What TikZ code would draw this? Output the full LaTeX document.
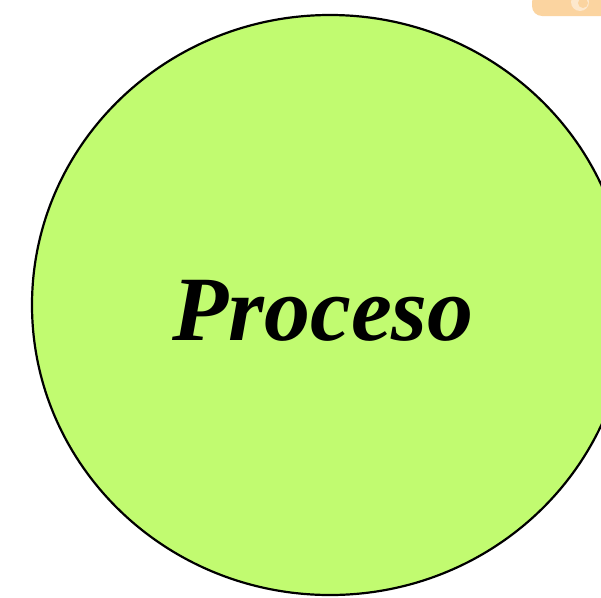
\documentclass[tikz,border=0pt]{standalone}
\usepackage{fontspec}
\newfontfamily\labelfont{Liberation Serif}
\definecolor{procfill}{RGB}{193,251,112}
\definecolor{iconorange}{RGB}{251,212,160}
\definecolor{iconlight}{RGB}{253,232,205}
\tikzset{
  procshape/.style={draw=black, line width=2.2pt, fill=procfill},
  proclabel/.style={font=\labelfont\bfseries\itshape\fontsize{92}{100}\selectfont, text=black, inner sep=0pt}
}
\begin{document}
\begin{tikzpicture}[x=1pt,y=1pt]
\useasboundingbox (0,0) rectangle (601,-597);
\fill[white] (0,0) rectangle (601,-597);
% partial orange icon at the top right
\fill[iconorange, rounded corners=10pt] (532,8) rectangle (640,-16);
\fill[iconlight] (580,-2) circle (9);
\fill[iconorange] (583,-3) circle (5);
% process circle
\path[procshape] (330,-305) ellipse [x radius=298, y radius=290];
\node[proclabel, anchor=base] (proc) at (323,-340) {Proceso};
\end{tikzpicture}
\end{document}
